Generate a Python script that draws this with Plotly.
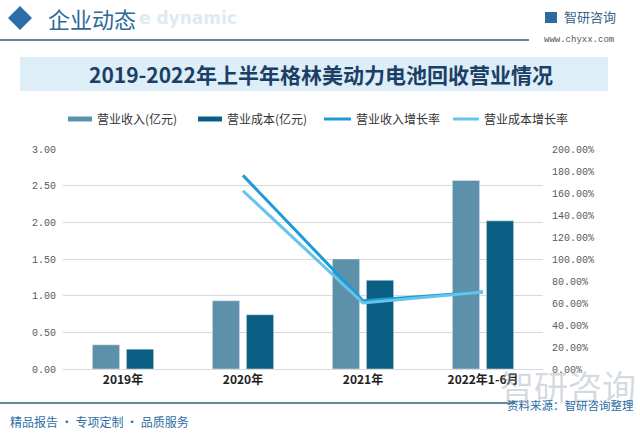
import plotly.graph_objects as go

categories = ["2019年", "2020年", "2021年", "2022年1-6月"]
revenue = [0.33, 0.93, 1.50, 2.57]          # 营业收入 (亿元)
cost = [0.27, 0.74, 1.21, 2.02]             # 营业成本 (亿元)
rev_growth = [None, 1.76, 0.62, 0.70]       # 营业收入增长率
cost_growth = [None, 1.62, 0.60, 0.70]      # 营业成本增长率
left_ticks = [0, 0.5, 1.0, 1.5, 2.0, 2.5, 3.0]
right_ticks = [0, 0.2, 0.4, 0.6, 0.8, 1.0, 1.2, 1.4, 1.6, 1.8, 2.0]
legend_names = ["营业收入(亿元)", "营业成本(亿元)", "营业收入增长率", "营业成本增长率"]

C_REV = "#5D90A9"
C_COST = "#0B5E83"
C_RG = "#1E9AD6"
C_CG = "#66C4EA"
CJK = "Noto Sans CJK SC"

fig = go.Figure()
fig.add_trace(go.Bar(x=categories, y=revenue, name=legend_names[0], marker_color=C_REV,
                     showlegend=False, yaxis="y"))
fig.add_trace(go.Bar(x=categories, y=cost, name=legend_names[1], marker_color=C_COST,
                     showlegend=False, yaxis="y"))
fig.add_trace(go.Scatter(x=categories, y=rev_growth, mode="lines", name=legend_names[2],
                         line=dict(color=C_RG, width=3), yaxis="y2", showlegend=False))
fig.add_trace(go.Scatter(x=categories, y=cost_growth, mode="lines", name=legend_names[3],
                         line=dict(color=C_CG, width=3), yaxis="y2", showlegend=False))

W, H = 640, 435
pl, pr, pt, pb = 63, 543, 149, 369

fig.update_layout(
    width=W, height=H,
    margin=dict(l=pl, r=W - pr, t=pt, b=H - pb, autoexpand=False),
    paper_bgcolor="white", plot_bgcolor="white",
    barmode="group", bargap=0.433, bargroupgap=0.2,
    font=dict(family=CJK, size=12, color="#404040"),
    showlegend=False,
    xaxis=dict(tickfont=dict(family=CJK, size=12, color="#222222", weight="bold"),
               showline=True, linecolor="#D9D9D9", ticks="", showgrid=False,
               automargin=False),
    yaxis=dict(range=[0, 3.0], tickvals=left_ticks, tickformat=".2f",
               tickfont=dict(family="Liberation Mono", size=10, color="#595959"),
               showgrid=True, gridcolor="#D9D9D9", zeroline=False, ticks="",
               ticklabelstandoff=6, automargin=False),
    yaxis2=dict(range=[0, 2.0], tickvals=right_ticks, tickformat=".2%",
                overlaying="y", side="right", showgrid=False, zeroline=False,
                tickfont=dict(family="Liberation Mono", size=10, color="#595959"),
                ticklabelstandoff=8, automargin=False),
)


def px(x):
    return (x - pl) / (pr - pl)


def py(y):
    return (pb - y) / (pb - pt)


shapes = [
    dict(type="rect", x0=px(20), x1=px(608), y0=py(91), y1=py(57),
         fillcolor="#DDEEF8", line_width=0, layer="below"),
    dict(type="line", x0=px(0), x1=px(529), y0=py(40), y1=py(40),
         line=dict(color="#2E5F80", width=1.5)),
    dict(type="line", x0=px(0), x1=px(515), y0=py(403), y1=py(403),
         line=dict(color="#2E5F80", width=1.5)),
    dict(type="path",
         path=f"M {px(8)} {py(18)} L {px(20)} {py(6)} L {px(32)} {py(18)} L {px(20)} {py(30)} Z",
         fillcolor="#2C6FA8", line_width=0),
    dict(type="rect", x0=px(545), x1=px(557), y0=py(23), y1=py(12),
         fillcolor="#2D6AA0", line_width=0),
]
# manual legend symbols
leg_sym = [(68, 92, C_REV, 5), (198, 222, C_COST, 5), (324, 351, C_RG, 3), (453, 479, C_CG, 3)]
for x0, x1, c, w in leg_sym:
    shapes.append(dict(type="line", x0=px(x0), x1=px(x1), y0=py(119), y1=py(119),
                       line=dict(color=c, width=w)))
for s in shapes:
    s.update(xref="paper", yref="paper")
fig.update_layout(shapes=shapes)

ann = [
    dict(text="e dynamic", x=px(137), y=py(18), xanchor="left", yanchor="middle",
         font=dict(family="DejaVu Sans", size=17, color="#E0EAF2", weight="bold")),
    dict(text="企业动态", x=px(46), y=py(18), xanchor="left", yanchor="middle",
         font=dict(family=CJK, size=22, color="#2C6A9A")),
    dict(text="智研咨询", x=px(562), y=py(17), xanchor="left", yanchor="middle",
         font=dict(family=CJK, size=13, color="#3A5F8A")),
    dict(text="www.chyxx.com", x=px(542), y=py(40), xanchor="left", yanchor="middle",
         font=dict(family="Liberation Mono", size=9, color="#555555"), bgcolor="white"),
    dict(text="2019-2022年上半年格林美动力电池回收营业情况", x=px(321), y=py(74),
         xanchor="center", yanchor="middle",
         font=dict(family=CJK, size=21, color="#1C3F66", weight="bold")),
    dict(text="智研咨询", x=px(638), y=py(385), xanchor="right", yanchor="middle",
         font=dict(family=CJK, size=34, color="rgba(150,165,180,0.42)")),
    dict(text="资料来源：智研咨询整理", x=px(636), y=py(405), xanchor="right", yanchor="middle",
         font=dict(family=CJK, size=11.5, color="#2E6DA4")),
    dict(text="精品报告 · 专项定制 · 品质服务", x=px(8), y=py(421), xanchor="left", yanchor="middle",
         font=dict(family=CJK, size=12, color="#2E6DA4")),
]
leg_text_x = [95, 225, 354, 482]
for name, tx in zip(legend_names, leg_text_x):
    ann.append(dict(text=name, x=px(tx), y=py(119), xanchor="left", yanchor="middle",
                    font=dict(family=CJK, size=12, color="#333333")))
for a in ann:
    a.update(xref="paper", yref="paper", showarrow=False)
fig.update_layout(annotations=ann)

fig.write_html("out.html", config={"displayModeBar": False},
               post_script="document.body.style.margin='0';document.body.style.overflow='hidden';")
